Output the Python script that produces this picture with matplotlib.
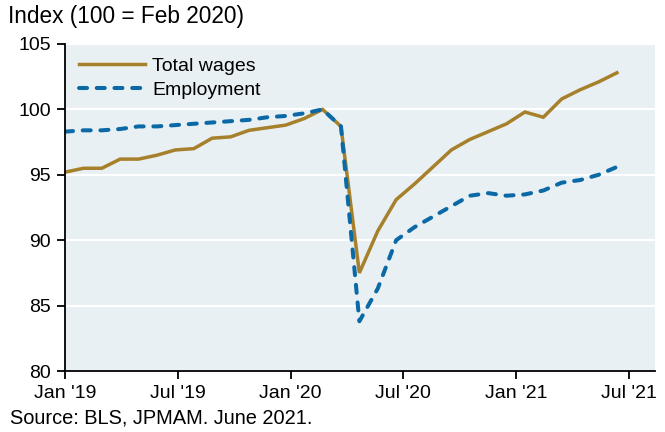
import numpy as np
import matplotlib
matplotlib.use('Agg')
import matplotlib.pyplot as plt

plt.rcParams['font.family'] = ['Liberation Sans', 'DejaVu Sans']

###########################
## Monthly index values, Dec 2018 .. Jun 2021 (100 = Feb 2020)

wages = [95.2, 95.5, 95.5, 96.2, 96.2, 96.5, 96.9, 97.0, 97.8, 97.9,
         98.4, 98.6, 98.8, 99.3, 100.0, 98.7, 87.5, 90.7, 93.1, 94.3,
         95.6, 96.9, 97.7, 98.3, 98.9, 99.8, 99.4, 100.8, 101.5, 102.1,
         102.8]

employment = [98.3, 98.4, 98.4, 98.5, 98.7, 98.7, 98.8, 98.9, 99.0, 99.1,
              99.2, 99.4, 99.5, 99.7, 100.0, 98.7, 83.8, 86.3, 90.0, 91.0,
              91.8, 92.6, 93.4, 93.6, 93.4, 93.5, 93.8, 94.4, 94.6, 95.0,
              95.6]

tick_labels = ["Jan '19", "Jul '19", "Jan '20", "Jul '20", "Jan '21", "Jul '21"]
y_ticks = [80, 85, 90, 95, 100, 105]

###########################

x = np.arange(len(wages))

fig = plt.figure(figsize=(6.65, 4.32), dpi=100)
ax = fig.add_axes([65/665., 61/432., 590/665., 327/432.])
ax.set_facecolor('#e8f0f3')

ax.plot(x, wages, color='#a7802b', lw=2.5, label='Total wages',
        solid_joinstyle='miter')
ax.plot(x, employment, color='#0b69a6', lw=2.9, label='Employment',
        dashes=(2.0, 2.4), dash_capstyle='round')

ax.set_ylim(80, 105)
ax.set_yticks(y_ticks)
ax.set_xlim(0, 32.07)
ax.set_xticks(np.arange(len(tick_labels)) * 6.13)
ax.set_xticklabels(tick_labels)

ax.grid(axis='y', color='white', lw=1.6)
ax.set_axisbelow(True)

for s in ['top', 'right']:
    ax.spines[s].set_visible(False)
for s in ['left', 'bottom']:
    ax.spines[s].set_linewidth(1.3)
    ax.spines[s].set_color('black')

ax.tick_params(axis='both', labelsize=14, length=6, width=1.3, direction='out')
ax.tick_params(axis='x', pad=4)
ax.tick_params(axis='y', pad=4)

leg = ax.legend(loc='upper left', frameon=False, fontsize=14,
                handlelength=3.4, handletextpad=0.4, labelspacing=0.3,
                borderaxespad=0.3, bbox_to_anchor=(0.0, 1.0))

fig.text(8/665., 1 - 17/432., 'Index (100 = Feb 2020)', fontsize=16.3,
         va='center', ha='left')
fig.text(10/665., 1 - 418/432., 'Source: BLS, JPMAM. June 2021.', fontsize=14.4,
         va='center', ha='left')

fig.savefig('out.png', dpi=100)
